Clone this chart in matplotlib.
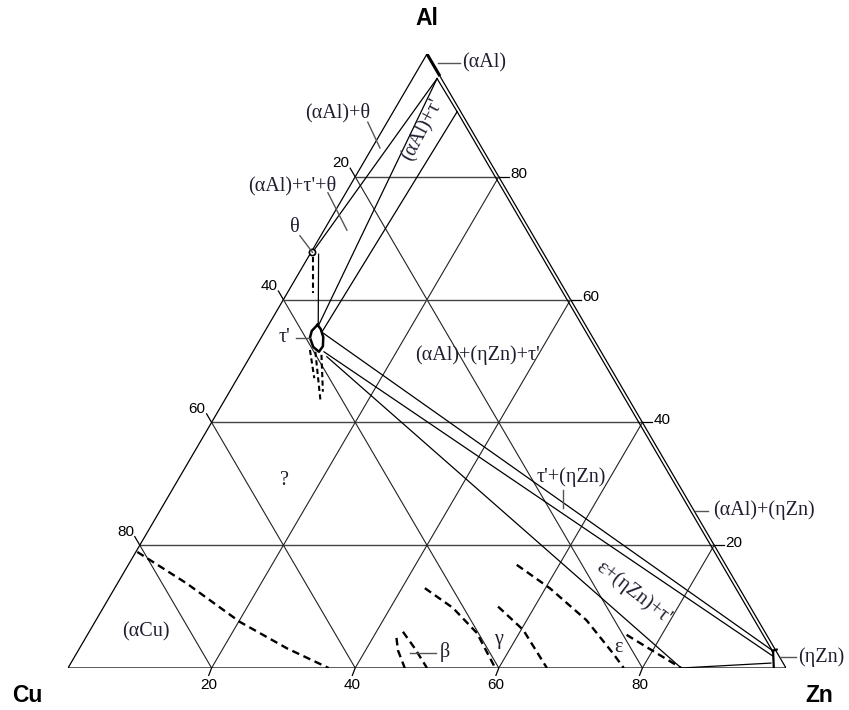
import matplotlib.pyplot as plt
import numpy as np

# isothermal section Al-Cu-Zn, compositions in at.% given as (Al, Zn); Cu is the balance
TICKS = [20, 40, 60, 80]

ALPHA_AL_SOLVUS = [(100.0, 0.0), (96.4, 3.6)]
ALPHA_AL_PT = (96.0, 3.4)
ALPHA_AL_ZN = (90.6, 8.9)
THETA_PT = (67.7, 0.2)
TAU_LOOP = [(55.9, 6.8), (55.2, 7.6), (53.9, 8.6), (52.4, 9.3), (51.5, 9.2),
            (52.3, 8.0), (53.8, 6.8), (54.9, 6.5), (55.9, 6.8)]
TAU_UP = (54.7, 8.0)
TAU_TOP = (55.7, 7.0)
TAU_LOW = (51.5, 9.9)
TAU_EPS = (50.7, 10.7)
ETA_UP = (2.9, 96.6)
ETA_MID = (2.0, 97.1)
ETA_LOW = (0.8, 97.5)
ETA_BOX = [(3.0, 97.2), (2.8, 96.7), (2.8, 96.8), (0.0, 98.3)]
EPS_PT = (0.0, 85.4)

# solid phase-boundary / tie lines
SOLID_LINES = [
    [THETA_PT, ALPHA_AL_PT],
    [TAU_TOP, ALPHA_AL_PT],
    [TAU_UP, ALPHA_AL_ZN],
    [ALPHA_AL_PT, ALPHA_AL_ZN],
    [(67.4, 1.2), TAU_TOP],
    [ALPHA_AL_ZN, ETA_UP],
    [TAU_UP, ETA_UP],
    [TAU_LOW, ETA_MID],
    [TAU_EPS, EPS_PT],
    [EPS_PT, ETA_LOW],
]

# dashed phase boundaries
DASHED_LINES = {
    "alpha_cu": [(18.9, 0.2), (13.8, 9.6), (7.5, 20.2), (3.2, 28.9), (0.0, 36.3)],
    "beta_left": [(4.9, 43.3), (2.9, 44.5), (0.0, 46.9)],
    "beta_right": [(5.9, 43.7), (3.2, 46.7), (0.0, 50.0)],
    "gamma_left": [(13.0, 43.2), (9.8, 48.7), (5.7, 54.1), (0.0, 59.5)],
    "gamma_right": [(10.0, 54.9), (6.2, 60.3), (0.0, 66.7)],
    "eps_left": [(16.8, 54.1), (13.0, 60.6), (7.8, 68.3), (2.4, 74.7), (0.0, 77.4)],
    "eps_right": [(5.4, 75.1), (2.4, 80.8), (0.0, 85.4)],
}
TAU_DASHED = [
    [(66.9, 0.7), (61.1, 3.6)],
    [(51.8, 7.8), (47.2, 10.7)],
    [(51.5, 8.7), (43.7, 13.3)],
    [(51.0, 9.8), (45.0, 13.0)],
]

LABEL_COLOR = "#1e1e30"
SERIF = ["Liberation Serif", "DejaVu Serif"]
SANS = ["Liberation Sans", "DejaVu Sans"]


def xy(al, zn):
    return zn / 100.0 + al / 200.0, al / 100.0


def path(points):
    arr = np.array([xy(a, z) for a, z in points])
    return arr[:, 0], arr[:, 1]


fig = plt.figure(figsize=(8.49, 7.10), dpi=100)
ax = fig.add_axes([68 / 849, 42 / 710, 718 / 849, 614 / 710])
ax.set_xlim(0, 1)
ax.set_ylim(0, 1)
ax.axis("off")

# frame and composition grid
ax.plot(*path([(0, 0), (0, 100), (100, 0), (0, 0)]), color="black", lw=0.9)
for v in TICKS:
    ax.plot(*path([(v, 0), (v, 100 - v)]), color="#444444", lw=1.0)
    ax.plot(*path([(0, v), (100 - v, v)]), color="#222222", lw=0.8)
    ax.plot(*path([(0, 100 - v), (100 - v, 0)]), color="#222222", lw=0.8)

# axis ticks and numbers
for v in TICKS:
    # Al on the right edge
    x0, y0 = xy(v, 100 - v)
    ax.plot([x0, x0 + 0.014], [y0, y0], color="black", lw=0.9, clip_on=False)
    ax.text(x0 + 0.016, y0 + 0.004, str(v), ha="left", va="center", fontsize=11,
            family=SANS)
    # Cu on the left edge
    x0, y0 = xy(100 - v, 0)
    ax.plot([x0, x0 - 0.007], [y0, y0 + 0.014], color="black", lw=0.9, clip_on=False)
    ax.text(x0 - 0.020, y0 + 0.022, str(v), ha="center", va="center", fontsize=11,
            family=SANS)
    # Zn along the base
    x0, y0 = xy(0, v)
    ax.plot([x0, x0 - 0.004], [y0, y0 - 0.012], color="black", lw=0.9, clip_on=False)
    ax.text(x0 - 0.004, y0 - 0.028, str(v), ha="center", va="center", fontsize=11,
            family=SANS)

# phase boundaries
ax.plot(*path(ALPHA_AL_SOLVUS), color="black", lw=2.2, solid_capstyle="butt")
for seg in SOLID_LINES:
    ax.plot(*path(seg), color="black", lw=0.9)
ax.plot(*path(TAU_LOOP), color="black", lw=1.8)
ax.plot(*path(ETA_BOX[:2]), color="black", lw=1.6)
ax.plot(*path(ETA_BOX[2:]), color="black", lw=1.6)
for pts in DASHED_LINES.values():
    ax.plot(*path(pts), color="black", lw=1.7, dashes=(3.2, 2.0))
for pts in TAU_DASHED:
    ax.plot(*path(pts), color="black", lw=1.5, dashes=(2.5, 1.6))
ax.plot(*xy(*THETA_PT), marker="o", ms=4.5, mfc="white", mec="black", mew=1.2)


# phase labels with leader lines
def label(text, al, zn, size=14.5, **kw):
    x, y = xy(al, zn)
    ax.text(x, y, text, ha=kw.pop("ha", "center"), va="center", fontsize=size,
            family=SERIF, color=LABEL_COLOR, **kw)


def leader(p0, p1):
    ax.plot(*path([p0, p1]), color="#555555", lw=1.0, clip_on=False)


label("(αAl)", 98.5, 5.6, ha="left")
leader((98.5, 2.3), (98.5, 5.35))
label("(αAl)+θ", 90.5, -7.7)
leader((88.9, -2.7), (84.7, 1.1))
label("(αAl)+τ'+θ", 78.5, -8.0)
leader((77.4, -2.5), (71.3, 3.2))
label("θ", 71.7, -4.2)
leader((70.4, -2.9), (67.7, 0.2))
label("τ'", 53.8, 3.3)
leader((53.75, 4.9), (53.75, 6.8))
label("(αAl)+τ'", 87.6, 5.6, rotation=62)
label("(αAl)+(ηZn)+τ'", 51.0, 31.6)
label("τ'+(ηZn)", 31.1, 54.6)
leader((29.0, 54.45), (26.1, 55.9))
label("(αAl)+(ηZn)", 25.7, 77.0, ha="left")
leader((25.6, 74.5), (25.6, 76.3))
label("(ηZn)", 1.85, 100.8, ha="left")
leader((1.85, 98.25), (1.85, 100.5))
label("?", 30.6, 14.9)
label("(αCu)", 5.9, 7.9)
label("β", 2.6, 50.5, ha="left")
leader((2.5, 46.4), (2.5, 50.0))
label("γ", 4.6, 57.6)
label("ε", 3.3, 75.0)
label("ε+(ηZn)+τ'", 12.2, 72.6, rotation=-38)

# corner elements
for name, (x, y) in {"Al": (0.5, 1.058), "Cu": (-0.056, -0.044),
                     "Zn": (1.047, -0.044)}.items():
    ax.text(x, y, name, transform=ax.transAxes, ha="center", va="center",
            fontsize=16.5, fontweight="bold", family=SANS)

fig.savefig("out.png", dpi=100)
